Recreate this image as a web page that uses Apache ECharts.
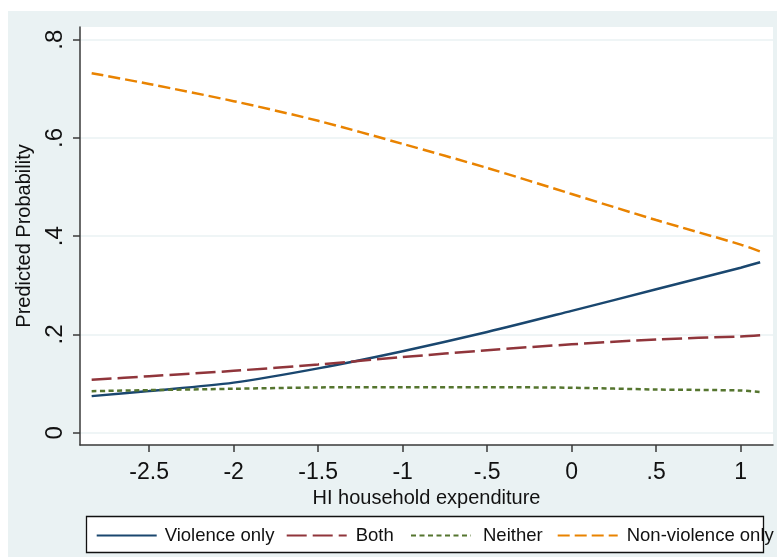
<!DOCTYPE html>
<html>
<head>
<meta charset="utf-8">
<script src="https://cdn.jsdelivr.net/npm/echarts@6/dist/echarts.min.js"></script>
<style>
html,body{margin:0;padding:0;background:#fff;}
#chart{width:777px;height:557px;}
</style>
</head>
<body>
<div id="chart"></div>
<script>
// ---- data ----
const xValues = [-2.84, -2.5, -2, -1.5, -1, -0.5, 0, 0.5, 1, 1.115];
const violenceOnly = [0.0745, 0.085, 0.102, 0.131, 0.166, 0.205, 0.248, 0.292, 0.336, 0.347];
const both = [0.108, 0.115, 0.126, 0.139, 0.154, 0.168, 0.180, 0.190, 0.196, 0.1985];
const neither = [0.0846, 0.0867, 0.0895, 0.0922, 0.0927, 0.0927, 0.0915, 0.088, 0.086, 0.083];
const nonViolenceOnly = [0.732, 0.710, 0.675, 0.635, 0.588, 0.539, 0.486, 0.433, 0.383, 0.369];

const xTickValues = [-2.5, -2, -1.5, -1, -0.5, 0, 0.5, 1];
const xTickLabels = ['-2.5', '-2', '-1.5', '-1', '-.5', '0', '.5', '1'];
const yTickValues = [0, 0.2, 0.4, 0.6, 0.8];
const yTickLabels = ['0', '.2', '.4', '.6', '.8'];

const seriesNames = ['Violence only', 'Both', 'Neither', 'Non-violence only'];

function pairs(ys) { return xValues.map((x, i) => [x, ys[i]]); }
function lookup(vals, labels, v) {
  const i = vals.findIndex(t => Math.abs(t - v) < 1e-9);
  return i >= 0 ? labels[i] : '';
}

const FONT = '"Liberation Sans", Arial, sans-serif';
const AXIS_COLOR = '#3a3a3a';
const BG = '#eaf2f3';

const chart = echarts.init(document.getElementById('chart'), null, { renderer: 'canvas' });

function legendFor(name, left, pad) {
  return {
    data: [name],
    left: left,
    top: 526,
    padding: 0,
    itemWidth: 60,
    itemHeight: 14,
    itemGap: 0,
    z: 10,
    itemStyle: { opacity: 0 },
    textStyle: { fontFamily: FONT, fontSize: 18.5, color: '#111', padding: [0, 0, 0, pad] }
  };
}

const option = {
  animation: false,
  backgroundColor: '#ffffff',
  graphic: [
    { type: 'rect', z: -100, shape: { x: 8, y: 11, width: 769, height: 546 }, style: { fill: BG } },
    { type: 'rect', z: 1, shape: { x: 86.5, y: 516.5, width: 677, height: 36 }, style: { fill: '#ffffff', stroke: '#111', lineWidth: 1.3 } }
  ],
  grid: {
    left: 80, top: 27, right: 4, bottom: 112,
    show: true, backgroundColor: '#ffffff', borderWidth: 0
  },
  legend: [
    legendFor(seriesNames[0], 95.7, 3),
    legendFor(seriesNames[1], 285.7, 4),
    legendFor(seriesNames[2], 410, 7),
    legendFor(seriesNames[3], 556.7, 4)
  ],
  xAxis: {
    type: 'value',
    min: -2.909,
    max: 1.191,
    name: 'HI household expenditure',
    nameLocation: 'middle',
    nameGap: 42,
    nameTextStyle: { fontFamily: FONT, fontSize: 20, color: '#111' },
    axisLine: { show: true, onZero: false, lineStyle: { color: AXIS_COLOR, width: 1.5 } },
    axisTick: { show: true, length: 7, customValues: xTickValues, lineStyle: { color: AXIS_COLOR, width: 1.5 } },
    axisLabel: {
      customValues: xTickValues,
      margin: 16,
      fontFamily: FONT, fontSize: 23, color: '#111',
      formatter: v => lookup(xTickValues, xTickLabels, v)
    },
    splitLine: { show: false }
  },
  yAxis: {
    type: 'value',
    min: -0.025,
    max: 0.826,
    name: 'Predicted Probability',
    nameLocation: 'middle',
    nameGap: 46,
    nameRotate: 90,
    nameTextStyle: { fontFamily: FONT, fontSize: 20, color: '#111' },
    axisLine: { show: true, onZero: false, lineStyle: { color: AXIS_COLOR, width: 1.5 } },
    axisTick: { show: true, length: 7, customValues: yTickValues, lineStyle: { color: AXIS_COLOR, width: 1.5 } },
    axisLabel: {
      customValues: yTickValues,
      rotate: 90,
      margin: 13,
      fontFamily: FONT, fontSize: 24, color: '#111',
      formatter: v => lookup(yTickValues, yTickLabels, v)
    },
    splitLine: { show: true, lineStyle: { color: BG, width: 1.5 } }
  },
  series: [
    {
      name: seriesNames[0], type: 'line', data: pairs(violenceOnly),
      symbol: 'none', smooth: 0.3, color: '#1a476f',
      lineStyle: { color: '#1a476f', width: 2.5, type: 'solid' }
    },
    {
      name: seriesNames[1], type: 'line', data: pairs(both),
      symbol: 'none', smooth: 0.3, color: '#90353b',
      lineStyle: { color: '#90353b', width: 2.5, type: [20, 6] }
    },
    {
      name: seriesNames[2], type: 'line', data: pairs(neither),
      symbol: 'none', smooth: 0.3, color: '#55752f',
      lineStyle: { color: '#55752f', width: 2.5, type: [5, 3.5] }
    },
    {
      name: seriesNames[3], type: 'line', data: pairs(nonViolenceOnly),
      symbol: 'none', smooth: 0.3, color: '#e98300',
      lineStyle: { color: '#e98300', width: 2.5, type: [12, 5] }
    }
  ]
};
chart.setOption(option);
</script>
</body>
</html>
